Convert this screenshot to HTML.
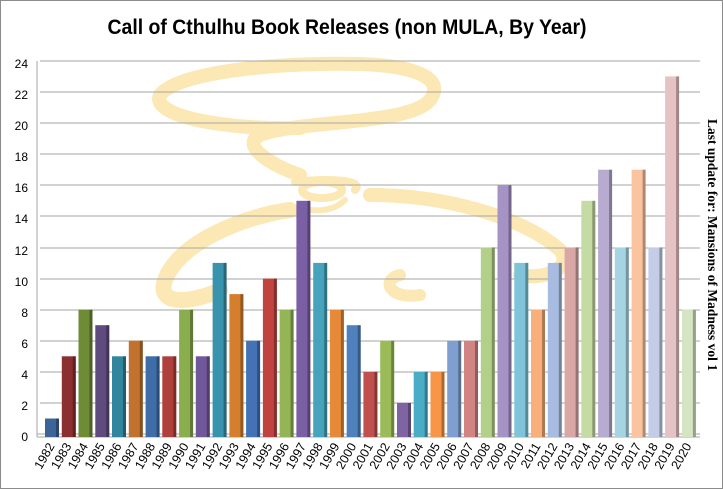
<!DOCTYPE html>
<html><head><meta charset="utf-8"><style>
html,body{margin:0;padding:0;background:#fff;}
svg{display:block;}
.s{fill:#000;opacity:.3}
</style></head><body>
<svg width="723" height="489" viewBox="0 0 723 489" xmlns="http://www.w3.org/2000/svg">
<rect x="0.5" y="0.5" width="722" height="488" fill="#fff" stroke="#8c8c8c"/>
<g fill="none" stroke="#fbe8b4" stroke-linecap="round">
<path d="M300 128 C220 130 150 115 160 95 C180 70 290 62 360 64 C420 66 445 80 430 100 C410 125 300 120 260 135 C240 145 270 165 300 175" stroke-width="14"/>
<path d="M295 182 C330 178 365 180 355 190" stroke-width="8"/>
<ellipse cx="322" cy="190" rx="20" ry="8" stroke-width="8"/>
<path d="M290 210 C250 215 180 240 165 280 C155 310 200 300 220 290" stroke-width="16"/>
<path d="M370 195 C440 195 520 215 560 250 C575 270 540 280 520 275" stroke-width="14"/>
<path d="M400 275 C380 280 390 300 420 295" stroke-width="12"/>
<path d="M310 210 C330 212 340 205 345 200" stroke-width="6"/>
</g>
<g stroke="#a6a6a6" stroke-width="1">
<line x1="37" y1="434" x2="700" y2="434"/>
<line x1="40" y1="403" x2="700" y2="403"/><line x1="40" y1="372" x2="700" y2="372"/>
<line x1="40" y1="341" x2="700" y2="341"/><line x1="40" y1="310" x2="700" y2="310"/>
<line x1="40" y1="279" x2="700" y2="279"/><line x1="40" y1="248" x2="700" y2="248"/>
<line x1="40" y1="216" x2="700" y2="216"/><line x1="40" y1="185" x2="700" y2="185"/>
<line x1="40" y1="154" x2="700" y2="154"/><line x1="40" y1="123" x2="700" y2="123"/>
<line x1="40" y1="92" x2="700" y2="92"/><line x1="40" y1="61" x2="700" y2="61"/>
<line x1="37" y1="61" x2="37" y2="437"/>
<line x1="37" y1="437" x2="700" y2="437"/>
</g>
<g font-family="Liberation Sans, sans-serif" font-size="12" text-anchor="end" fill="#000">
<text x="28" y="441">0</text><text x="28" y="410">2</text><text x="28" y="379">4</text><text x="28" y="348">6</text><text x="28" y="317">8</text><text x="28" y="286">10</text><text x="28" y="255">12</text><text x="28" y="223">14</text><text x="28" y="192">16</text><text x="28" y="161">18</text><text x="28" y="130">20</text><text x="28" y="99">22</text><text x="28" y="68">24</text>
</g>
<text x="347" y="34" font-family="Liberation Sans, sans-serif" font-weight="bold" font-size="21" text-anchor="middle" textLength="479" lengthAdjust="spacingAndGlyphs">Call of Cthulhu Book Releases (non MULA, By Year)</text>
<text transform="translate(708,245) rotate(90)" font-family="Liberation Serif, serif" font-weight="bold" font-size="14" text-anchor="middle" textLength="252" lengthAdjust="spacingAndGlyphs">Last update for: Mansions of Madness vol 1</text>

<g>
<g transform="translate(45.0,421.5)" fill="#3c6496"><rect y="-3" width="14" height="18.5"/><rect class="s" x="11" y="-3" width="3" height="18.5"/></g>
<g transform="translate(61.8,359.3)" fill="#8b3030"><rect y="-3" width="14" height="80.7"/><rect class="s" x="11" y="-3" width="3" height="80.7"/></g>
<g transform="translate(78.5,312.6)" fill="#6e8b35"><rect y="-3" width="14" height="127.4"/><rect class="s" x="11" y="-3" width="3" height="127.4"/></g>
<g transform="translate(95.3,328.2)" fill="#5f4b7e"><rect y="-3" width="14" height="111.8"/><rect class="s" x="11" y="-3" width="3" height="111.8"/></g>
<g transform="translate(112.0,359.3)" fill="#31859c"><rect y="-3" width="14" height="80.7"/><rect class="s" x="11" y="-3" width="3" height="80.7"/></g>
<g transform="translate(128.8,343.7)" fill="#c0722e"><rect y="-3" width="14" height="96.3"/><rect class="s" x="11" y="-3" width="3" height="96.3"/></g>
<g transform="translate(145.6,359.3)" fill="#3e6da8"><rect y="-3" width="14" height="80.7"/><rect class="s" x="11" y="-3" width="3" height="80.7"/></g>
<g transform="translate(162.3,359.3)" fill="#b0403c"><rect y="-3" width="14" height="80.7"/><rect class="s" x="11" y="-3" width="3" height="80.7"/></g>
<g transform="translate(179.1,312.6)" fill="#8aad4e"><rect y="-3" width="14" height="127.4"/><rect class="s" x="11" y="-3" width="3" height="127.4"/></g>
<g transform="translate(195.8,359.3)" fill="#71589a"><rect y="-3" width="14" height="80.7"/><rect class="s" x="11" y="-3" width="3" height="80.7"/></g>
<g transform="translate(212.6,265.9)" fill="#3a93ad"><rect y="-3" width="14" height="174.1"/><rect class="s" x="11" y="-3" width="3" height="174.1"/></g>
<g transform="translate(229.4,297.1)" fill="#d57f2e"><rect y="-3" width="14" height="142.9"/><rect class="s" x="11" y="-3" width="3" height="142.9"/></g>
<g transform="translate(246.1,343.7)" fill="#4373b5"><rect y="-3" width="14" height="96.3"/><rect class="s" x="11" y="-3" width="3" height="96.3"/></g>
<g transform="translate(262.9,281.5)" fill="#c0433f"><rect y="-3" width="14" height="158.5"/><rect class="s" x="11" y="-3" width="3" height="158.5"/></g>
<g transform="translate(279.6,312.6)" fill="#93b556"><rect y="-3" width="14" height="127.4"/><rect class="s" x="11" y="-3" width="3" height="127.4"/></g>
<g transform="translate(296.4,203.8)" fill="#7a5fa5"><rect y="-3" width="14" height="236.2"/><rect class="s" x="11" y="-3" width="3" height="236.2"/></g>
<g transform="translate(313.2,265.9)" fill="#45a3bc"><rect y="-3" width="14" height="174.1"/><rect class="s" x="11" y="-3" width="3" height="174.1"/></g>
<g transform="translate(329.9,312.6)" fill="#e68a3a"><rect y="-3" width="14" height="127.4"/><rect class="s" x="11" y="-3" width="3" height="127.4"/></g>
<g transform="translate(346.7,328.2)" fill="#4f81bd"><rect y="-3" width="14" height="111.8"/><rect class="s" x="11" y="-3" width="3" height="111.8"/></g>
<g transform="translate(363.4,374.8)" fill="#c0504d"><rect y="-3" width="14" height="65.2"/><rect class="s" x="11" y="-3" width="3" height="65.2"/></g>
<g transform="translate(380.2,343.7)" fill="#9bbb59"><rect y="-3" width="14" height="96.3"/><rect class="s" x="11" y="-3" width="3" height="96.3"/></g>
<g transform="translate(397.0,405.9)" fill="#8064a2"><rect y="-3" width="14" height="34.1"/><rect class="s" x="11" y="-3" width="3" height="34.1"/></g>
<g transform="translate(413.7,374.8)" fill="#4bacc6"><rect y="-3" width="14" height="65.2"/><rect class="s" x="11" y="-3" width="3" height="65.2"/></g>
<g transform="translate(430.5,374.8)" fill="#f79646"><rect y="-3" width="14" height="65.2"/><rect class="s" x="11" y="-3" width="3" height="65.2"/></g>
<g transform="translate(447.2,343.7)" fill="#7f9fd0"><rect y="-3" width="14" height="96.3"/><rect class="s" x="11" y="-3" width="3" height="96.3"/></g>
<g transform="translate(464.0,343.7)" fill="#d08583"><rect y="-3" width="14" height="96.3"/><rect class="s" x="11" y="-3" width="3" height="96.3"/></g>
<g transform="translate(480.8,250.4)" fill="#b3d08a"><rect y="-3" width="14" height="189.6"/><rect class="s" x="11" y="-3" width="3" height="189.6"/></g>
<g transform="translate(497.5,188.2)" fill="#a593c5"><rect y="-3" width="14" height="251.8"/><rect class="s" x="11" y="-3" width="3" height="251.8"/></g>
<g transform="translate(514.3,265.9)" fill="#7fc4d8"><rect y="-3" width="14" height="174.1"/><rect class="s" x="11" y="-3" width="3" height="174.1"/></g>
<g transform="translate(531.0,312.6)" fill="#f9af7a"><rect y="-3" width="14" height="127.4"/><rect class="s" x="11" y="-3" width="3" height="127.4"/></g>
<g transform="translate(547.8,265.9)" fill="#a7bce0"><rect y="-3" width="14" height="174.1"/><rect class="s" x="11" y="-3" width="3" height="174.1"/></g>
<g transform="translate(564.6,250.4)" fill="#d9a7a6"><rect y="-3" width="14" height="189.6"/><rect class="s" x="11" y="-3" width="3" height="189.6"/></g>
<g transform="translate(581.3,203.8)" fill="#c5dba4"><rect y="-3" width="14" height="236.2"/><rect class="s" x="11" y="-3" width="3" height="236.2"/></g>
<g transform="translate(598.1,172.7)" fill="#b8abd0"><rect y="-3" width="14" height="267.3"/><rect class="s" x="11" y="-3" width="3" height="267.3"/></g>
<g transform="translate(614.8,250.4)" fill="#a6d4e3"><rect y="-3" width="14" height="189.6"/><rect class="s" x="11" y="-3" width="3" height="189.6"/></g>
<g transform="translate(631.6,172.7)" fill="#fbc4a0"><rect y="-3" width="14" height="267.3"/><rect class="s" x="11" y="-3" width="3" height="267.3"/></g>
<g transform="translate(648.4,250.4)" fill="#c3cde6"><rect y="-3" width="14" height="189.6"/><rect class="s" x="11" y="-3" width="3" height="189.6"/></g>
<g transform="translate(665.1,79.4)" fill="#e5c2c3"><rect y="-3" width="14" height="360.6"/><rect class="s" x="11" y="-3" width="3" height="360.6"/></g>
<g transform="translate(681.9,312.6)" fill="#d5e5c3"><rect y="-3" width="14" height="127.4"/><rect class="s" x="11" y="-3" width="3" height="127.4"/></g>
</g>

<g font-family="Liberation Sans, sans-serif" font-size="12.5" fill="#000" text-anchor="end">
<text transform="translate(55.0,446) rotate(-60)">1982</text>
<text transform="translate(71.8,446) rotate(-60)">1983</text>
<text transform="translate(88.5,446) rotate(-60)">1984</text>
<text transform="translate(105.3,446) rotate(-60)">1985</text>
<text transform="translate(122.0,446) rotate(-60)">1986</text>
<text transform="translate(138.8,446) rotate(-60)">1987</text>
<text transform="translate(155.6,446) rotate(-60)">1988</text>
<text transform="translate(172.3,446) rotate(-60)">1989</text>
<text transform="translate(189.1,446) rotate(-60)">1990</text>
<text transform="translate(205.8,446) rotate(-60)">1991</text>
<text transform="translate(222.6,446) rotate(-60)">1992</text>
<text transform="translate(239.4,446) rotate(-60)">1993</text>
<text transform="translate(256.1,446) rotate(-60)">1994</text>
<text transform="translate(272.9,446) rotate(-60)">1995</text>
<text transform="translate(289.6,446) rotate(-60)">1996</text>
<text transform="translate(306.4,446) rotate(-60)">1997</text>
<text transform="translate(323.2,446) rotate(-60)">1998</text>
<text transform="translate(339.9,446) rotate(-60)">1999</text>
<text transform="translate(356.7,446) rotate(-60)">2000</text>
<text transform="translate(373.4,446) rotate(-60)">2001</text>
<text transform="translate(390.2,446) rotate(-60)">2002</text>
<text transform="translate(407.0,446) rotate(-60)">2003</text>
<text transform="translate(423.7,446) rotate(-60)">2004</text>
<text transform="translate(440.5,446) rotate(-60)">2005</text>
<text transform="translate(457.2,446) rotate(-60)">2006</text>
<text transform="translate(474.0,446) rotate(-60)">2007</text>
<text transform="translate(490.8,446) rotate(-60)">2008</text>
<text transform="translate(507.5,446) rotate(-60)">2009</text>
<text transform="translate(524.3,446) rotate(-60)">2010</text>
<text transform="translate(541.0,446) rotate(-60)">2011</text>
<text transform="translate(557.8,446) rotate(-60)">2012</text>
<text transform="translate(574.6,446) rotate(-60)">2013</text>
<text transform="translate(591.3,446) rotate(-60)">2014</text>
<text transform="translate(608.1,446) rotate(-60)">2015</text>
<text transform="translate(624.8,446) rotate(-60)">2016</text>
<text transform="translate(641.6,446) rotate(-60)">2017</text>
<text transform="translate(658.4,446) rotate(-60)">2018</text>
<text transform="translate(675.1,446) rotate(-60)">2019</text>
<text transform="translate(691.9,446) rotate(-60)">2020</text>
</g>
</svg>
</body></html>
